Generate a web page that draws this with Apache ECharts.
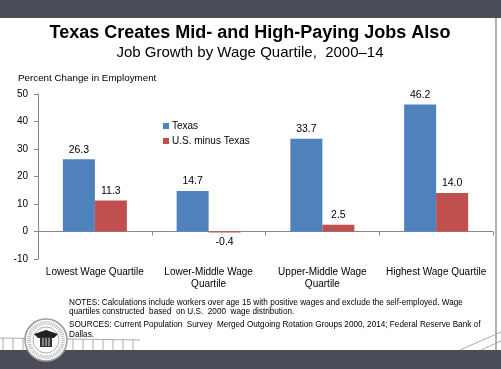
<!DOCTYPE html>
<html><head><meta charset="utf-8">
<script src="https://cdn.jsdelivr.net/npm/echarts@6/dist/echarts.min.js"></script>
<style>html,body{margin:0;padding:0;background:#fff}#c{width:501px;height:369px}</style>
</head><body><div id="c"></div>
<script>
const categories = ['Lowest Wage Quartile', 'Lower-Middle Wage\nQuartile', 'Upper-Middle Wage\nQuartile', 'Highest Wage Quartile'];
const texas = [26.3, 14.7, 33.7, 46.2];
const usMinusTexas = [11.3, -0.4, 2.5, 14.0];
const seriesNames = ['Texas', 'U.S. minus Texas'];
const yTicks = { min: -10, max: 50, interval: 10 };

const FONT = 'Liberation Sans, Arial, sans-serif';
function items(vals) {
  return vals.map(v => ({ value: v, label: { position: v < 0 ? 'bottom' : 'top' } }));
}
const lbl = { show: true, color: '#000', fontSize: 10.5, fontFamily: FONT, distance: 4, formatter: p => p.value.toFixed(1) };

const chart = echarts.init(document.getElementById('c'), null, { renderer: 'canvas' });
const fence = [];
for (let x = 3; x < 140; x += 10) {
  const y = 338 + x * 0.015;
  fence.push({ type: 'line', shape: { x1: x, y1: y, x2: x, y2: 350 }, style: { stroke: '#aaa', lineWidth: 1 } });
}
const noteFont = '8.2px Liberation Sans, Arial, sans-serif';
chart.setOption({
  animation: false,
  backgroundColor: '#fff',
  grid: { left: 38, right: 8, top: 94, bottom: 110 },
  legend: {
    data: seriesNames, orient: 'vertical', left: 158, top: 116, itemWidth: 6, itemHeight: 6, itemGap: 5,
    icon: 'rect', textStyle: { fontSize: 10, fontFamily: FONT, color: '#000', padding: [0, 0, 0, -2] }
  },
  xAxis: {
    type: 'category', data: categories,
    axisLine: { lineStyle: { color: '#888' } },
    axisTick: { show: true, length: 4, lineStyle: { color: '#888' } },
    axisLabel: { fontSize: 10, fontFamily: FONT, color: '#000', margin: 7, lineHeight: 12, interval: 0 }
  },
  yAxis: {
    type: 'value', min: yTicks.min, max: yTicks.max, interval: yTicks.interval,
    splitLine: { show: false },
    axisLine: { show: true, lineStyle: { color: '#888' } },
    axisTick: { show: true, length: 4, lineStyle: { color: '#888' } },
    axisLabel: { fontSize: 10, fontFamily: FONT, color: '#000', margin: 10 }
  },
  series: [
    { name: seriesNames[0], type: 'bar', data: items(texas), barWidth: 32, barGap: '0%', itemStyle: { color: '#4f81bd' }, label: lbl },
    { name: seriesNames[1], type: 'bar', data: items(usMinusTexas), barWidth: 32, itemStyle: { color: '#c0504d' }, label: lbl }
  ],
  graphic: [
    { type: 'rect', shape: { x: 0, y: 0, width: 501, height: 18 }, style: { fill: '#4a4c57' } },
    { type: 'rect', shape: { x: 0, y: 350, width: 501, height: 19 }, style: { fill: '#4a4c57' } },
    { type: 'line', shape: { x1: 496, y1: 18, x2: 496, y2: 350 }, style: { stroke: '#999', lineWidth: 1.5 } },
    { type: 'line', shape: { x1: 0, y1: 338, x2: 140, y2: 340 }, style: { stroke: '#aaa', lineWidth: 1 } },
    ...fence,
    { type: 'line', shape: { x1: 460, y1: 350, x2: 501, y2: 332 }, style: { stroke: '#aaa', lineWidth: 1 } },
    { type: 'line', shape: { x1: 481, y1: 350, x2: 501, y2: 341 }, style: { stroke: '#aaa', lineWidth: 1 } },
    { type: 'circle', shape: { cx: 46, cy: 340, r: 21 }, style: { fill: '#fff', stroke: '#999', lineWidth: 1.5 } },
    { type: 'circle', shape: { cx: 46, cy: 340, r: 17 }, style: { fill: '#fff', stroke: '#bbb', lineWidth: 4, lineDash: [1, 1] } },
    { type: 'circle', shape: { cx: 46, cy: 340, r: 13 }, style: { fill: '#fff', stroke: '#999', lineWidth: 0.8 } },
    { type: 'polygon', shape: { points: [[34, 334], [46, 330], [58, 334], [54, 338], [38, 338]] }, style: { fill: '#222' } },
    { type: 'rect', shape: { x: 40, y: 337, width: 12, height: 10 }, style: { fill: '#333' } },
    { type: 'line', shape: { x1: 43, y1: 338, x2: 43, y2: 346 }, style: { stroke: '#fff', lineWidth: 0.8 } },
    { type: 'line', shape: { x1: 46, y1: 338, x2: 46, y2: 346 }, style: { stroke: '#fff', lineWidth: 0.8 } },
    { type: 'line', shape: { x1: 49, y1: 338, x2: 49, y2: 346 }, style: { stroke: '#fff', lineWidth: 0.8 } },
    { type: 'text', style: { text: 'Texas Creates Mid- and High-Paying Jobs Also', x: 250, y: 33, align: 'center', verticalAlign: 'middle', font: 'bold 18px Liberation Sans, Arial, sans-serif', fill: '#000' } },
    { type: 'text', style: { text: 'Job Growth by Wage Quartile,  2000\u201314', x: 250, y: 53, align: 'center', verticalAlign: 'middle', font: '15px Liberation Sans, Arial, sans-serif', fill: '#000' } },
    { type: 'text', style: { text: 'Percent Change in Employment', x: 18, y: 78, verticalAlign: 'middle', font: '9.8px Liberation Sans, Arial, sans-serif', fill: '#000' } },
    { type: 'text', style: { text: 'NOTES: Calculations include workers over age 15 with positive wages and exclude the self-employed. Wage', x: 69, y: 303, verticalAlign: 'middle', font: noteFont, fill: '#000' } },
    { type: 'text', style: { text: 'quartiles constructed  based  on U.S.  2000  wage distribution.', x: 69, y: 312, verticalAlign: 'middle', font: noteFont, fill: '#000' } },
    { type: 'text', style: { text: 'SOURCES: Current Population  Survey  Merged Outgoing Rotation Groups 2000, 2014; Federal Reserve Bank of', x: 69, y: 325, verticalAlign: 'middle', font: noteFont, fill: '#000' } },
    { type: 'text', style: { text: 'Dallas.', x: 69, y: 335, verticalAlign: 'middle', font: noteFont, fill: '#000' } }
  ]
});
</script></body></html>
